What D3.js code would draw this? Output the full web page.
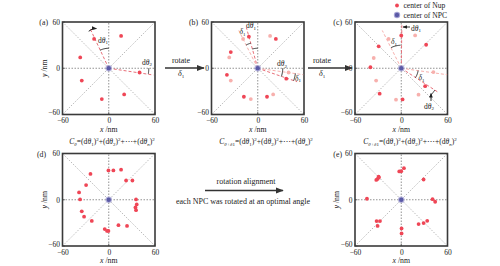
<!DOCTYPE html>
<html><head><meta charset="utf-8">
<script src="https://cdn.jsdelivr.net/npm/d3@7"></script>
<style>body{margin:0;background:#fff}svg{display:block}text{font-family:"Liberation Serif","DejaVu Serif",serif;fill:#222}</style>
</head><body><svg id="c" width="500" height="266"></svg>
<script>
// ---- data (nm) ----
const axisTicks = [-60, 0, 60];
const tickLabels = ["\u221260", "0", "60"];
const panelLetters = ["(a)", "(b)", "(c)", "(d)", "(e)"];
// (a) original Nup centers
const nupA = [[-19,38],[16,42],[-37,14],[-35,-16],[-9,-40],[20,-34],[40,-5.5]];
// (b) rotated by delta1 (dark) ; previous positions shown light
const nupB = [[-11.5,41],[23.5,38],[-35,21],[-40,-8.5],[-18,-37],[12,-37],[37,-13.5]];
const nupBPrev = [[-19,38],[16,42],[-37,14],[-35,-16],[-9,-40],[20,-34],[40,-5.5]];
// (c)
const nupC = [[0,42.5],[32.3,30.5],[-29.3,28.4],[-40,1.3],[-28,-33],[1.7,-40.4],[31,-23.2]];
const nupCPrev = [[-16.4,38],[18,42.6],[-35.7,13.3],[-32.6,-16],[-6.8,-40.8],[22.4,-34.3],[41.7,-5]];
// (d) many NPCs before alignment
const nupD = [[-23.7,33.5],[-0.4,38],[6,38],[16,39],[22.5,25],[30.7,25],[-29.4,19],[-38.5,9.5],[-37.2,0.4],
  [35.4,0.4],[36.3,-6],[34.6,-10],[35.4,-13.5],[-35,-15],[-32,-22],[-22,-27.5],[-5.2,-38],[-2.2,-40.5],
  [-0.4,-40.5],[12.6,-33],[23.7,-34]];
// (e) after alignment
const nupE = [[-29.4,30],[-30.7,27],[-32.4,25.7],[-29,29],[-2.6,36.7],[0,37],[3.5,41],[29,26.3],[-44.5,1.3],
  [40.6,0.8],[44,-2.6],[-32,-27.7],[-27.6,-27.7],[-30.7,-34],[22.5,-31.6],[29,-30.3],[33.7,-27.3],
  [0.4,-37.2],[0.4,-43.7]];
const legendLabels = ["center of Nup", "center of NPC"];
const midTexts = ["rotate", "rotation alignment", "each NPC was rotated at an optimal angle"];

// ---- layout ----
const svg = d3.select("#c");
const S = 92.5;
const panels = [
  {l:62.5, t:22,  ylab:true,  lx:48},
  {l:211.5,t:22,  ylab:false, lx:198},
  {l:355,  t:22,  ylab:false, lx:342},
  {l:62.5, t:153.5, ylab:true, lx:46},
  {l:355,  t:153.5, ylab:true, lx:342}
];
const RED = "#ef4656", PINK = "#f7b0ad", BLUE = "#5b5aa6";
const defs = svg.append("defs");
function marker(id, color, size){
  defs.append("marker").attr("id", id).attr("viewBox","0 0 10 10").attr("refX",9).attr("refY",5)
    .attr("markerWidth",size).attr("markerHeight",size).attr("orient","auto")
    .append("path").attr("d","M0,1 L10,5 L0,9 Z").attr("fill",color);
}
marker("arr","#222",5); marker("arrBig","#333",6);

panels.forEach((p,i)=>{
  p.x = d3.scaleLinear().domain([-60,60]).range([p.l, p.l+S]);
  p.y = d3.scaleLinear().domain([-60,60]).range([p.t+S, p.t]);
  const g = svg.append("g"); p.g = g;
  const x=p.x, y=p.y;
  // diagonals
  g.append("line").attr("x1",x(-60)).attr("y1",y(-60)).attr("x2",x(60)).attr("y2",y(60))
    .attr("stroke","#aaa").attr("stroke-width",0.8).attr("stroke-dasharray","1.5,1.5");
  g.append("line").attr("x1",x(-60)).attr("y1",y(60)).attr("x2",x(60)).attr("y2",y(-60))
    .attr("stroke","#aaa").attr("stroke-width",0.8).attr("stroke-dasharray","1.5,1.5");
  g.append("line").attr("x1",x(-60)).attr("y1",y(0)).attr("x2",x(60)).attr("y2",y(0))
    .attr("stroke","#777").attr("stroke-width",0.8).attr("stroke-dasharray","1.5,1.5");
  g.append("line").attr("x1",x(0)).attr("y1",y(-60)).attr("x2",x(0)).attr("y2",y(60))
    .attr("stroke","#777").attr("stroke-width",0.8).attr("stroke-dasharray","1.5,1.5");
  // axes
  const xa = g.append("g").attr("transform",`translate(0,${p.t+S})`)
    .call(d3.axisBottom(x).tickValues(axisTicks).tickFormat((d,k)=>tickLabels[k]).tickSize(0).tickPadding(3.5));
  const ya = g.append("g").attr("transform",`translate(${p.l},0)`)
    .call(d3.axisLeft(y).tickValues(axisTicks).tickFormat((d,k)=>tickLabels[k]).tickSize(0).tickPadding(2.5));
  [xa,ya].forEach(a=>{a.select(".domain").remove(); a.selectAll("text").attr("font-size",7.5).attr("font-family","Liberation Serif").attr("fill","#222");});
  // y tick "-60" nudged up a bit to stay clear of the x tick labels
  ya.selectAll(".tick text").filter(d=>d===-60).attr("dy","0.05em");
  // inner tick marks
  axisTicks.forEach(v=>{
    g.append("line").attr("x1",x(v)).attr("x2",x(v)).attr("y1",p.t+S).attr("y2",p.t+S-2.5).attr("stroke","#444").attr("stroke-width",0.7);
    g.append("line").attr("x1",p.l).attr("x2",p.l+2.5).attr("y1",y(v)).attr("y2",y(v)).attr("stroke","#444").attr("stroke-width",0.7);
  });
  // frame
  g.append("rect").attr("x",p.l).attr("y",p.t).attr("width",S).attr("height",S)
    .attr("fill","none").attr("stroke","#3a3a3a").attr("stroke-width",1.6);
  // labels
  const xl = g.append("text").attr("x",x(0)).attr("y",p.t+S+17.3).attr("text-anchor","middle").attr("font-size",7.8);
  xl.append("tspan").attr("font-style","italic").text("x");
  xl.append("tspan").text(" /nm");
  if(p.ylab){
    const yl = g.append("text").attr("transform",`translate(${p.l-16},${y(0)}) rotate(-90)`).attr("text-anchor","middle").attr("font-size",7.8);
    yl.append("tspan").attr("font-style","italic").text("y");
    yl.append("tspan").text(" /nm");
  }
  g.append("text").attr("x",p.lx).attr("y",p.t+3).attr("font-size",7.8).attr("text-anchor","end").text(panelLetters[i]);
});

function dashed(p, pt, color){
  p.g.append("line").attr("x1",p.x(0)).attr("y1",p.y(0)).attr("x2",p.x(pt[0])).attr("y2",p.y(pt[1]))
    .attr("stroke",color).attr("stroke-width",1).attr("stroke-dasharray","3,2");
}
function dots(p, pts, color, r){
  p.g.selectAll(null).data(pts).enter().append("circle")
    .attr("cx",d=>p.x(d[0])).attr("cy",d=>p.y(d[1])).attr("r",r).attr("fill",color);
}
function center(p){
  p.g.append("circle").attr("cx",p.x(0)).attr("cy",p.y(0)).attr("r",3.3).attr("fill","#a9a6d6").attr("opacity",0.8);
  p.g.append("circle").attr("cx",p.x(0)).attr("cy",p.y(0)).attr("r",2.2).attr("fill",BLUE);
}
function arc(p, r, a0, a1, color){
  const cx=p.x(0), cy=p.y(0);
  const pts = d3.range(0,1.0001,0.1).map(t=>{const a=(a0+(a1-a0)*t)*Math.PI/180; return [cx+r*Math.cos(a), cy-r*Math.sin(a)];});
  p.g.append("path").attr("d",d3.line()(pts)).attr("fill","none").attr("stroke",color||"#222").attr("stroke-width",0.9);
}
function label(p, px, py, parts, size){
  const t = p.g.append("text").attr("x",px).attr("y",py).attr("font-size",size||7.5);
  parts.forEach(([s,st])=>{
    const ts=t.append("tspan").text(s);
    if(st==="i") ts.attr("font-style","italic");
    if(st==="s") ts.attr("font-size",5).attr("dy",1.8);
  });
  return t;
}
const dth = n=>[["d"],["θ","i"],[n,"s"]];
const del = [["δ","i"],["1","s"]];

// ---- panel (a) ----
const A=panels[0];
dashed(A,[-24,51],"#e8707a"); dashed(A,[58,-8.8],"#e8707a");
dots(A,nupA,RED,1.9); center(A);
arc(A,20,90,116); arc(A,40,0,-8);
A.g.append("path").attr("d",`M${A.x(-26)},${A.y(48)} Q${A.x(-22)},${A.y(52)} ${A.x(-16)},${A.y(51.5)}`)
  .attr("fill","none").attr("stroke","#222").attr("stroke-width",1).attr("marker-end","url(#arr)");
label(A,98,42.5,dth("1"));
label(A,142,64.5,dth("2"));

// ---- panel (b) ----
const B=panels[1];
dashed(B,[-24.6,49],PINK); dashed(B,[-14.8,53],"#e8707a");
dashed(B,[59,-8.4],PINK); dashed(B,[51,-17.5],"#e8707a");
dots(B,nupBPrev,PINK,1.9); dots(B,nupB,RED,1.9); center(B);
arc(B,26,105.6,116.6); arc(B,20,90,105.6); arc(B,25,0,-19); arc(B,38,-19,-8);
label(B,246,28,dth("1"));
label(B,239.5,34,del);
label(B,277,66,dth("2"));
label(B,295,80.5,del);

// ---- panel (c) ----
const C=panels[2];
dashed(C,[-24.6,49],PINK); dashed(C,[0.8,57],"#e8707a");
dashed(C,[59.5,-8.4],PINK); dashed(C,[48.6,-31.6],"#e8707a");
dots(C,nupCPrev,PINK,1.9); dots(C,nupC,RED,1.9); center(C);
arc(C,23,92,116); arc(C,17,-33,-8); arc(C,40,-45,-33);
C.g.append("line").attr("x1",410).attr("y1",27).attr("x2",403).attr("y2",27).attr("stroke","#222").attr("stroke-width",0.9).attr("marker-end","url(#arr)");
label(C,411,30.5,dth("1"));
label(C,391,44,del);
label(C,418.5,80,del);
C.g.append("line").attr("x1",431).attr("y1",101).attr("x2",431).attr("y2",93.5).attr("stroke","#222").attr("stroke-width",0.9).attr("marker-end","url(#arr)");
label(C,424,108.5,dth("2"));
// legend
svg.append("circle").attr("cx",397).attr("cy",5.5).attr("r",1.9).attr("fill",RED);
svg.append("text").attr("x",403.5).attr("y",8.3).attr("font-size",7.6).text(legendLabels[0]);
svg.append("circle").attr("cx",397).attr("cy",15).attr("r",3.2).attr("fill","#a9a6d6");
svg.append("circle").attr("cx",397).attr("cy",15).attr("r",2.2).attr("fill",BLUE);
svg.append("text").attr("x",403.5).attr("y",17.8).attr("font-size",7.6).text(legendLabels[1]);

// ---- panels (d),(e) ----
dots(panels[3],nupD,RED,1.9); center(panels[3]);
dots(panels[4],nupE,RED,1.9); center(panels[4]);

// ---- connecting arrows & text ----
function bigArrow(x1,x2,y){
  svg.append("line").attr("x1",x1).attr("y1",y).attr("x2",x2).attr("y2",y).attr("stroke","#333").attr("stroke-width",1.3).attr("marker-end","url(#arrBig)");
}
bigArrow(165,204,68); bigArrow(308,352,68);
[181,322].forEach(cx=>{
  svg.append("text").attr("x",cx).attr("y",63).attr("text-anchor","middle").attr("font-size",8).text(midTexts[0]);
  const t=svg.append("text").attr("x",cx-3).attr("y",76).attr("font-size",8);
  t.append("tspan").attr("font-style","italic").text("δ");
  t.append("tspan").attr("font-size",5).attr("dy",1.8).text("1");
});
bigArrow(205,283,190.5);
svg.append("text").attr("x",246).attr("y",184).attr("text-anchor","middle").attr("font-size",8).text(midTexts[1]);
svg.append("text").attr("x",243).attr("y",203.5).attr("text-anchor","middle").attr("font-size",8).text(midTexts[2]);

// formulas
function formula(cx, y, sub){
  const t = svg.append("text").attr("x",cx).attr("y",y).attr("text-anchor","middle").attr("font-size",7.6);
  let cur=0;
  const add=(s,kind)=>{
    const target = kind==="sub"?2:(kind==="sup"?-3:0);
    const ts=t.append("tspan").text(s).attr("dy",target-cur); cur=target;
    if(kind) ts.attr("font-size",5);
    return ts;
  };
  add("C").attr("font-style","italic");
  sub.forEach(([s,it])=>{const ts=add(s,"sub"); if(it) ts.attr("font-style","italic");});
  add("=(d"); add("θ").attr("font-style","italic"); add("1","sub"); add(")"); add("2","sup");
  add("+(d"); add("θ").attr("font-style","italic"); add("2","sub"); add(")"); add("2","sup");
  add("+⋯+(d"); add("θ").attr("font-style","italic"); add("n","sub").attr("font-style","italic"); add(")"); add("2","sup");
}
formula(112,143.5,[["θ",1]]);
formula(266,143.5,[["θ+δ",1],["1",0]]);
formula(410,143.5,[["θ+δ",1],["1",0]]);
</script></body></html>
